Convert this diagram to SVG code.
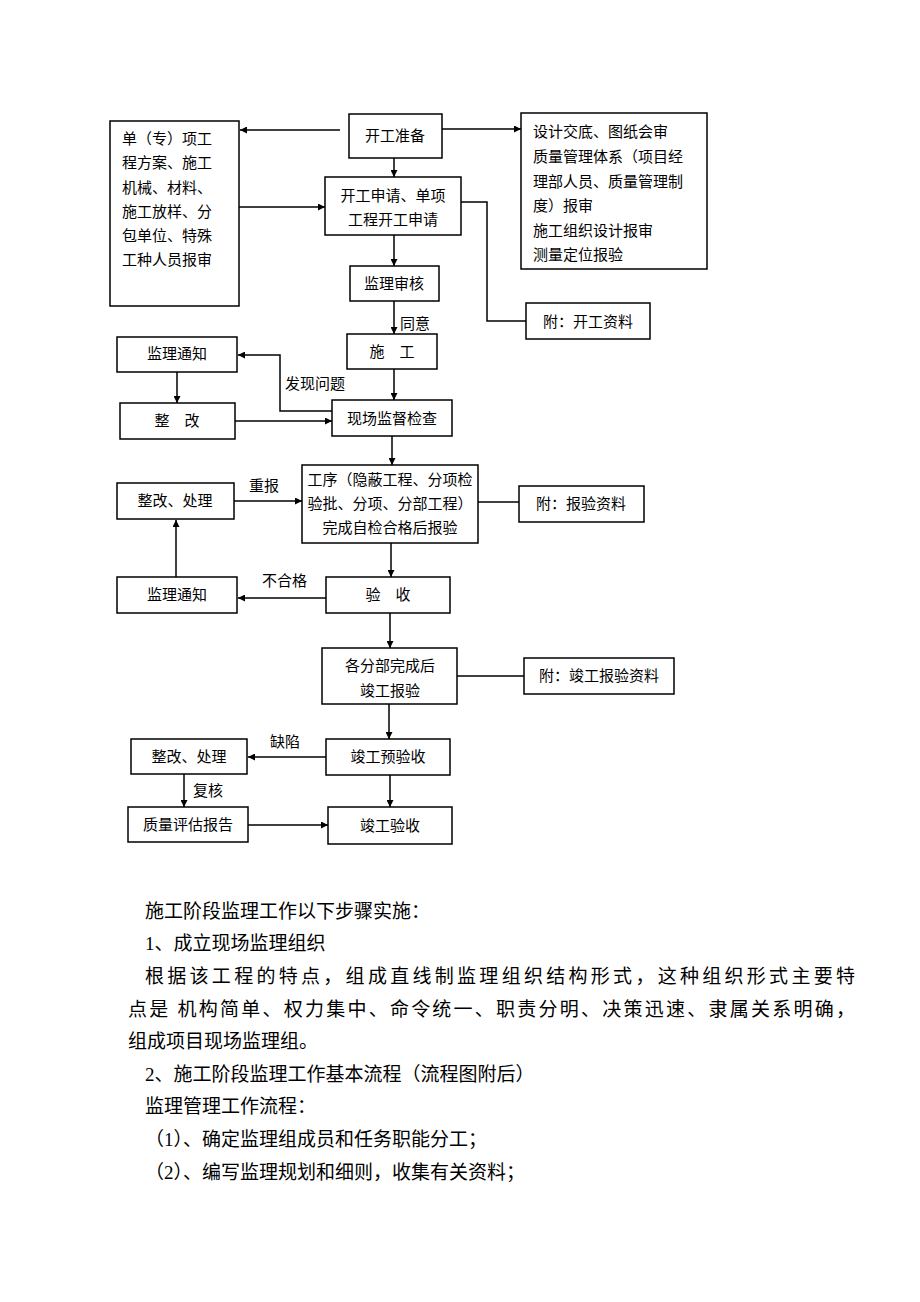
<svg xmlns="http://www.w3.org/2000/svg" width="920" height="1302" viewBox="0 0 920 1302">
<style>
rect{fill:#fff;stroke:#000;stroke-width:1.5}
text{font-family:"Liberation Serif","Noto Sans CJK SC",serif;font-size:15px;fill:#000}
.c{text-anchor:middle}
.p{font-size:19px}
#conn path,#conn line{stroke:#000;stroke-width:1.5;fill:none}
</style>
<defs><marker id="a" viewBox="0 0 10 10" refX="10" refY="5" markerWidth="7" markerHeight="7" orient="auto" markerUnits="userSpaceOnUse"><path d="M0,0L10,5L0,10z" fill="#000"/></marker></defs>
<rect width="920" height="1302" style="stroke:none"/>
<g id="conn">
<line x1="340" y1="130" x2="240" y2="130" marker-end="url(#a)"/>
<line x1="442" y1="129" x2="521" y2="129" marker-end="url(#a)"/>
<line x1="394" y1="158" x2="394" y2="177" marker-end="url(#a)"/>
<line x1="239" y1="207" x2="325" y2="207" marker-end="url(#a)"/>
<line x1="394" y1="235" x2="394" y2="266" marker-end="url(#a)"/>
<path d="M461,202H487V321H526"/>
<line x1="394" y1="301" x2="394" y2="334" marker-end="url(#a)"/>
<line x1="394" y1="369" x2="394" y2="400" marker-end="url(#a)"/>
<path d="M332,411H280V355H238" marker-end="url(#a)"/>
<line x1="177" y1="372" x2="177" y2="403" marker-end="url(#a)"/>
<line x1="235" y1="421" x2="332" y2="421" marker-end="url(#a)"/>
<line x1="392" y1="436" x2="392" y2="465" marker-end="url(#a)"/>
<line x1="234" y1="501" x2="302" y2="501" marker-end="url(#a)"/>
<line x1="478" y1="502" x2="519" y2="502"/>
<line x1="391" y1="543" x2="391" y2="577" marker-end="url(#a)"/>
<line x1="326" y1="598" x2="238" y2="598" marker-end="url(#a)"/>
<line x1="176" y1="577" x2="176" y2="520" marker-end="url(#a)"/>
<line x1="390" y1="613" x2="390" y2="648" marker-end="url(#a)"/>
<line x1="457" y1="676" x2="524" y2="676"/>
<line x1="389" y1="704" x2="389" y2="739" marker-end="url(#a)"/>
<line x1="326" y1="757" x2="248" y2="757" marker-end="url(#a)"/>
<line x1="184" y1="774" x2="184" y2="807" marker-end="url(#a)"/>
<line x1="390" y1="775" x2="390" y2="807" marker-end="url(#a)"/>
<line x1="248" y1="825" x2="328" y2="825" marker-end="url(#a)"/>
</g>
<g id="n1"><rect x="349" y="114" width="93" height="44"/><text x="395" y="141" class="c">开工准备</text></g>
<g id="n2"><rect x="110" y="121" width="129" height="185"/>
<text x="122" y="144">单（专）项工</text><text x="122" y="168">程方案、施工</text><text x="122" y="193">机械、材料、</text><text x="122" y="217">施工放样、分</text><text x="122" y="241">包单位、特殊</text><text x="122" y="265">工种人员报审</text></g>
<g id="n3"><rect x="521" y="113" width="186" height="156"/>
<text x="533" y="137">设计交底、图纸会审</text><text x="533" y="162">质量管理体系（项目经</text><text x="533" y="187">理部人员、质量管理制</text><text x="533" y="211">度）报审</text><text x="533" y="236">施工组织设计报审</text><text x="533" y="260">测量定位报验</text></g>
<g id="n4"><rect x="325" y="177" width="136" height="58"/><text x="393" y="201" class="c">开工申请、单项</text><text x="393" y="225" class="c">工程开工申请</text></g>
<g id="n5"><rect x="350" y="266" width="89" height="35"/><text x="394" y="289" class="c">监理审核</text></g>
<g id="n6"><rect x="526" y="303" width="124" height="36"/><text x="588" y="327" class="c">附：开工资料</text></g>
<g id="n7"><rect x="347" y="334" width="90" height="35"/><text x="392" y="357" class="c">施　工</text></g>
<g id="n8"><rect x="117" y="337" width="120" height="35"/><text x="177" y="359" class="c">监理通知</text></g>
<g id="n9"><rect x="120" y="403" width="115" height="36"/><text x="177" y="426" class="c">整　改</text></g>
<g id="n10"><rect x="332" y="400" width="120" height="36"/><text x="392" y="424" class="c">现场监督检查</text></g>
<g id="n11"><rect x="302" y="465" width="176" height="78"/><text x="390" y="485" class="c">工序（隐蔽工程、分项检</text><text x="390" y="509" class="c">验批、分项、分部工程）</text><text x="390" y="533" class="c">完成自检合格后报验</text></g>
<g id="n12"><rect x="117" y="483" width="117" height="36"/><text x="175" y="506" class="c">整改、处理</text></g>
<g id="n13"><rect x="519" y="486" width="125" height="36"/><text x="581" y="509" class="c">附：报验资料</text></g>
<g id="n14"><rect x="326" y="577" width="124" height="36"/><text x="388" y="600" class="c">验　收</text></g>
<g id="n15"><rect x="117" y="577" width="120" height="36"/><text x="177" y="600" class="c">监理通知</text></g>
<g id="n16"><rect x="322" y="648" width="135" height="56"/><text x="390" y="671" class="c">各分部完成后</text><text x="390" y="696" class="c">竣工报验</text></g>
<g id="n17"><rect x="524" y="658" width="150" height="36"/><text x="599" y="681" class="c">附：竣工报验资料</text></g>
<g id="n18"><rect x="326" y="739" width="124" height="36"/><text x="388" y="762" class="c">竣工预验收</text></g>
<g id="n19"><rect x="131" y="739" width="116" height="35"/><text x="189" y="762" class="c">整改、处理</text></g>
<g id="n20"><rect x="128" y="807" width="120" height="35"/><text x="188" y="830" class="c">质量评估报告</text></g>
<g id="n21"><rect x="328" y="807" width="124" height="37"/><text x="390" y="831" class="c">竣工验收</text></g>
<g id="labels">
<text x="400" y="329">同意</text><text x="285" y="389">发现问题</text><text x="249" y="491">重报</text><text x="262" y="586">不合格</text><text x="270" y="747">缺陷</text><text x="193" y="796">复核</text>
</g>
<g id="para">
<text class="p" x="145" y="918">施工阶段监理工作以下步骤实施：</text>
<text class="p" x="145" y="950">1、成立现场监理组织</text>
<text class="p" x="145" y="983" textLength="710" lengthAdjust="spacing">根据该工程的特点，组成直线制监理组织结构形式，这种组织形式主要特</text>
<text class="p" x="128" y="1016" textLength="727" lengthAdjust="spacing">点是 机构简单、权力集中、命令统一、职责分明、决策迅速、隶属关系明确，</text>
<text class="p" x="128" y="1048">组成项目现场监理组。</text>
<text class="p" x="145" y="1081">2、施工阶段监理工作基本流程（流程图附后）</text>
<text class="p" x="145" y="1113">监理管理工作流程：</text>
<text class="p" x="145" y="1146">（1）、确定监理组成员和任务职能分工；</text>
<text class="p" x="145" y="1179">（2）、编写监理规划和细则，收集有关资料；</text>
</g>
</svg>
